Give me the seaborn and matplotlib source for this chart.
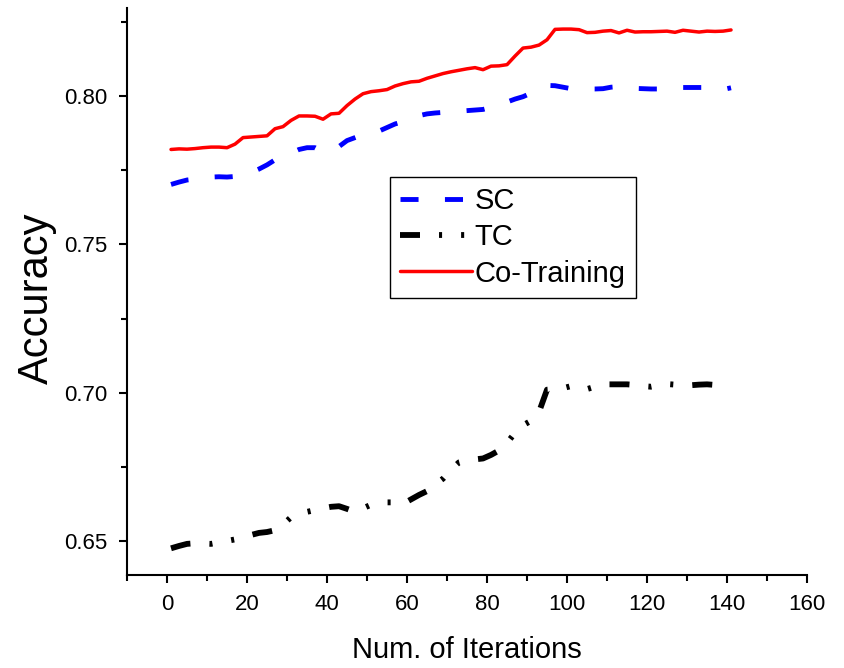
import numpy as np
import pandas as pd
import matplotlib
matplotlib.use("Agg")
import matplotlib.pyplot as plt
from matplotlib.ticker import MultipleLocator, FormatStrFormatter
import seaborn as sns

# Iteration index (every 2nd iteration)
iterations = list(range(1, 142, 2))

sc_acc = [
    0.7702, 0.7710, 0.7717, 0.7720, 0.7724, 0.7727, 0.7728, 0.7727, 0.7729, 0.7733,
    0.7742, 0.7754, 0.7768, 0.7785, 0.7795, 0.7808, 0.7820, 0.7826, 0.7826, 0.7812,
    0.7818, 0.7830, 0.7850, 0.7860, 0.7870, 0.7876, 0.7882, 0.7894, 0.7906, 0.7914,
    0.7925, 0.7934, 0.7940, 0.7943, 0.7945, 0.7947, 0.7949, 0.7951, 0.7953, 0.7955,
    0.7962, 0.7970, 0.7980, 0.7990, 0.7998, 0.8010, 0.8030, 0.8036, 0.8035, 0.8030,
    0.8025, 0.8024, 0.8024, 0.8024, 0.8025, 0.8030, 0.8032, 0.8030, 0.8026, 0.8025,
    0.8024, 0.8024, 0.8025, 0.8028, 0.8029, 0.8029, 0.8029, 0.8029, 0.8025, 0.8022,
    0.8028,
]

tc_acc = [
    0.6475, 0.6483, 0.6490, 0.6492, 0.6491, 0.6490, 0.6495, 0.6500, 0.6505, 0.6512,
    0.6520, 0.6527, 0.6530, 0.6536, 0.6555, 0.6580, 0.6590, 0.6598, 0.6604, 0.6610,
    0.6615, 0.6617, 0.6608, 0.6598, 0.6610, 0.6622, 0.6627, 0.6630, 0.6630, 0.6625,
    0.6640, 0.6655, 0.6668, 0.6690, 0.6710, 0.6740, 0.6765, 0.6772, 0.6775, 0.6778,
    0.6790, 0.6805, 0.6830, 0.6865, 0.6890, 0.6905, 0.6935, 0.7010, 0.7012, 0.7015,
    0.7022, 0.7015, 0.7012, 0.7020, 0.7028, 0.7028, 0.7028, 0.7028, 0.7026, 0.7022,
    0.7020, 0.7025, 0.7029, 0.7027, 0.7026, 0.7025, 0.7027, 0.7028, 0.7026, 0.7025,
    0.7020,
]

cotrain_acc = [
    0.7820, 0.7822, 0.7821, 0.7823, 0.7826, 0.7828, 0.7828, 0.7826, 0.7838, 0.7860,
    0.7862, 0.7864, 0.7866, 0.7890, 0.7897, 0.7918, 0.7933, 0.7933, 0.7932, 0.7922,
    0.7940, 0.7942, 0.7968, 0.7990, 0.8008, 0.8015, 0.8018, 0.8022, 0.8034, 0.8042,
    0.8048, 0.8050, 0.8060, 0.8068, 0.8076, 0.8082, 0.8087, 0.8092, 0.8096, 0.8089,
    0.8101, 0.8102, 0.8106, 0.8135, 0.8162, 0.8165, 0.8172, 0.8190, 0.8225, 0.8226,
    0.8226, 0.8224, 0.8214, 0.8215, 0.8219, 0.8221, 0.8213, 0.8222, 0.8216, 0.8217,
    0.8217, 0.8218, 0.8219, 0.8215, 0.8222, 0.8219, 0.8216, 0.8219, 0.8218, 0.8219,
    0.8223,
]

series_names = ["SC", "TC", "Co-Training"]

sns.set_style("ticks")
plt.rcParams["font.family"] = ["Liberation Sans", "DejaVu Sans"]
plt.rcParams["lines.scale_dashes"] = False
plt.rcParams["text.color"] = "black"
plt.rcParams["axes.labelcolor"] = "black"

df = pd.DataFrame({
    "iteration": iterations * 3,
    "accuracy": sc_acc + tc_acc + cotrain_acc,
    "model": [series_names[0]] * len(iterations)
             + [series_names[1]] * len(iterations)
             + [series_names[2]] * len(iterations),
})

fig = plt.figure(figsize=(8.44, 6.68), dpi=100)
ax = fig.add_axes([0.1505, 0.1392, 0.8057, 0.8488])

styles = {
    "SC": dict(color="#0000FF", lw=3.5, linestyle=(0, (13, 19)), dash_capstyle="butt"),
    "TC": dict(color="black", lw=4.2, linestyle=(0, (14.4, 13.7, 2.2, 13.7, 2.2, 13.7)),
               dash_capstyle="butt"),
    "Co-Training": dict(color="#FF0000", lw=2.5, linestyle="-"),
}

for name in series_names:
    sub = df[df["model"] == name]
    sns.lineplot(data=sub, x="iteration", y="accuracy", ax=ax, label=name,
                 **styles[name])

ax.set_xlim(-10, 160)
ax.set_ylim(0.6385, 0.8297)

ax.xaxis.set_major_locator(MultipleLocator(20))
ax.xaxis.set_minor_locator(MultipleLocator(10))
ax.yaxis.set_major_locator(MultipleLocator(0.05))
ax.yaxis.set_minor_locator(MultipleLocator(0.025))
ax.yaxis.set_major_formatter(FormatStrFormatter("%.2f"))

for side in ("top", "right"):
    ax.spines[side].set_visible(False)
for side in ("left", "bottom"):
    ax.spines[side].set_linewidth(1.5)
    ax.spines[side].set_color("black")

ax.tick_params(axis="both", which="major", direction="out", length=6, width=1.5,
               labelsize=16, colors="black", labelcolor="black", pad=8)
ax.tick_params(axis="both", which="minor", direction="out", length=4, width=1.5,
               colors="black")

ax.set_xlabel("Num. of Iterations", fontsize=21, labelpad=15)
ax.set_ylabel("Accuracy", fontsize=30)
ax.yaxis.set_label_coords(-0.103, 0.4885)

leg = ax.legend(loc="upper left", bbox_to_anchor=(0.387, 0.702), fontsize=21,
                frameon=True, fancybox=False, shadow=False, framealpha=1,
                edgecolor="black", handlelength=2.45, handletextpad=0.1,
                labelspacing=0.28, borderpad=0.35, borderaxespad=0)
leg.get_frame().set_linewidth(1.0)

fig.savefig("out.png", dpi=100)
